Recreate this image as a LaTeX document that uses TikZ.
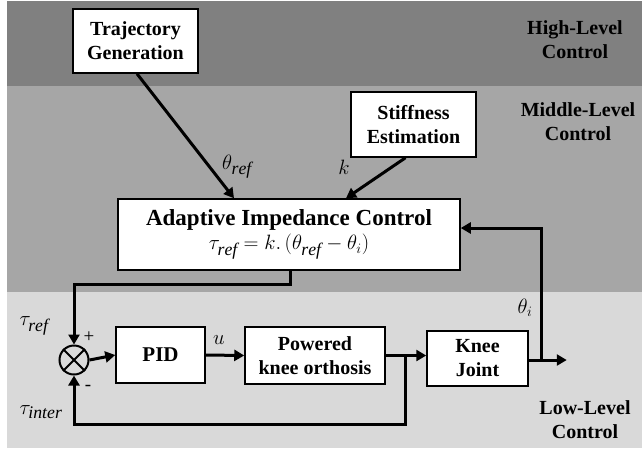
\documentclass[tikz,border=0pt]{standalone}
\usepackage{fontspec}
\setmainfont{Liberation Serif}
\usetikzlibrary{arrows.meta,calc}
\definecolor{bandhigh}{HTML}{808080}
\definecolor{bandmid}{HTML}{A6A6A6}
\definecolor{bandlow}{HTML}{D9D9D9}
\newcommand{\sbs}[1]{\scalebox{1.15}{$\scriptstyle\mathit{#1}$}}
\tikzset{
  blockbox/.style={draw=black,line width=1.5pt,fill=white,align=center,inner sep=2pt,
    font=\fontsize{20}{24}\selectfont\bfseries},
  levellabel/.style={align=center,font=\fontsize{20}{24}\selectfont\bfseries},
  sig/.style={line width=3pt,-{Triangle[length=10pt,width=11pt]}},
  mlabel/.style={font=\fontsize{22}{26}\selectfont,inner sep=0pt},
  signlabel/.style={font=\fontsize{19}{22}\selectfont,inner sep=0pt}
}
\begin{document}
\begin{tikzpicture}[x=1pt,y=-1pt]
\useasboundingbox (0,0) rectangle (642,448);
% bands
\fill[white] (0,0) rectangle (642,448);
\fill[bandhigh] (7,1) rectangle (642,86);
\fill[bandmid] (7,86) rectangle (642,292);
\fill[bandlow] (7,292) rectangle (642,448);
% level labels
\node[levellabel] (hl) at (575,40) {High-Level\\Control};
\node[levellabel] (ml) at (578,121.5) {Middle-Level\\Control};
\node[levellabel] (ll) at (585,419.5) {Low-Level\\Control};
% blocks
\node[blockbox,minimum width=125pt,minimum height=64pt] (traj) at (135.5,41) {Trajectory\\Generation};
\node[blockbox,minimum width=125pt,minimum height=65pt] (stiff) at (413.5,124.5) {Stiffness\\Estimation};
\node[blockbox,minimum width=342pt,minimum height=71pt,font=\fontsize{23}{26}\selectfont\bfseries] (aic) at (289,234.5)
  {Adaptive Impedance Control\\[-2pt]{\mdseries\fontsize{22}{26}\selectfont$\tau_{\sbs{ref}}=k.\,\bigl(\theta_{\sbs{ref}}-\theta_i\bigr)$}};
\node[blockbox,minimum width=89pt,minimum height=56pt,font=\fontsize{21}{24}\selectfont\bfseries] (pid) at (160.5,355) {PID};
\node[blockbox,minimum width=140pt,minimum height=57pt] (pko) at (315,355.5) {Powered\\knee orthosis};
\node[blockbox,minimum width=101pt,minimum height=55pt] (knee) at (477.5,358.5) {Knee\\Joint};
\node[draw=black,line width=2pt,circle,minimum size=29pt,inner sep=0pt] (sum) at (74,360) {};
\draw[line width=2pt] (sum.north west) -- (sum.south east);
\draw[line width=2pt] (sum.north east) -- (sum.south west);
% connectors
\draw[sig] ($(traj.south)+(1.5,0)$) -- ($(aic.north)+(-55,0)$);
\draw[sig] ($(stiff.south)+(-8,0)$) -- ($(aic.north)+(57,0)$);
\draw[sig] ($(aic.south)+(1,0)$) -- ++(0,13.5) -| (sum.north);
\draw[sig] (sum.east) -- (pid.west);
\draw[sig] (pid.east) -- (pko.west);
\draw[sig] (pko.east) -- (pko.east -| knee.west);
\coordinate (br) at ($(pko.east)+(20,0)$);
\draw[sig] (br) -- ++(0,69) -| (sum.south);
\coordinate (outp) at ($(knee.east)+(13,1.5)$);
\draw[sig] ($(knee.east)+(0,1.5)$) -- ++(38,0);
\draw[sig] (outp) |- ($(aic.east)+(0,-6.5)$);
% labels
\node[mlabel] (lthr) at (237,167) {$\theta_{\sbs{ref}}$};
\node[mlabel] (lk) at (344,167) {$k$};
\node[mlabel] (ltr) at (34,326) {$\tau_{\sbs{ref}}$};
\node[mlabel] (lti) at (41,412) {$\tau_{\sbs{inter}}$};
\node[signlabel] (lp) at (89,337) {+};
\node[signlabel] (lm) at (88,388) {-};
\node[mlabel] (lu) at (219,340) {$u$};
\node[mlabel] (lthi) at (525,308) {$\theta_i$};
\end{tikzpicture}
\end{document}
